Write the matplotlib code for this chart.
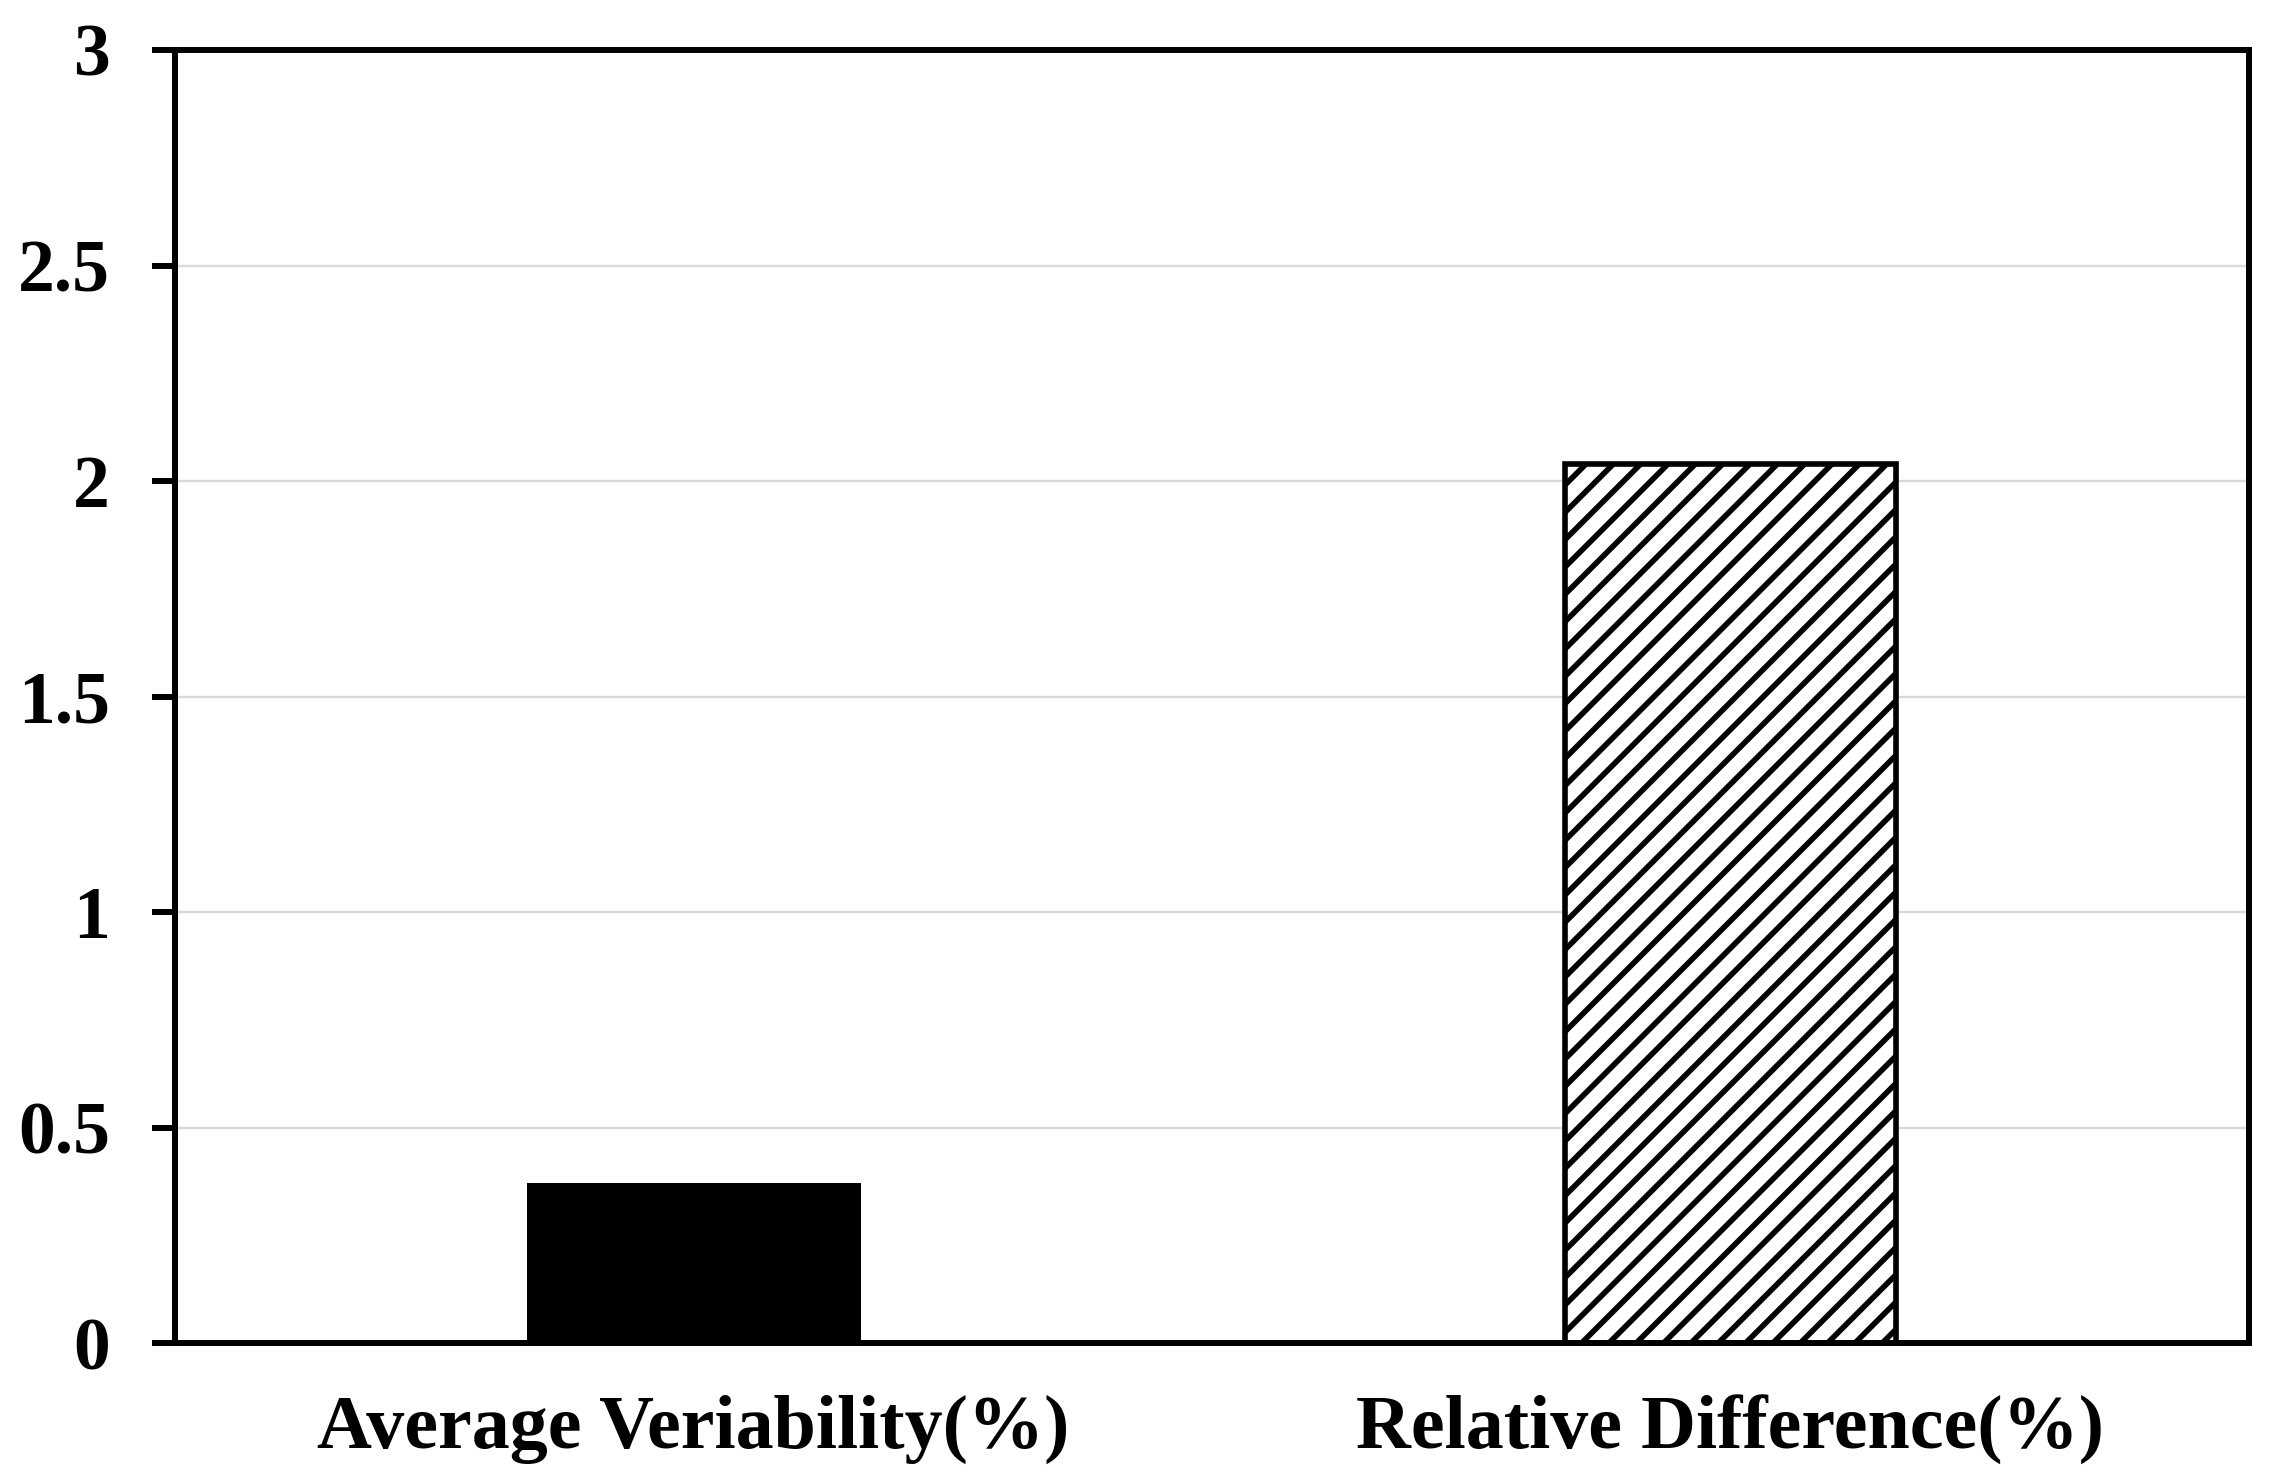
import matplotlib
matplotlib.use("Agg")
import matplotlib.pyplot as plt

categories = ["Average Veriability(%)", "Relative Difference(%)"]
values = [0.37, 2.04]
yticks = [0, 0.5, 1, 1.5, 2, 2.5, 3]
ytick_labels = ["0", "0.5", "1", "1.5", "2", "2.5", "3"]

DPI = 82
W, H = 2284, 1484


def pt(px):
    return px * 72.0 / DPI


plt.rcParams['font.family'] = ['Liberation Serif', 'DejaVu Serif']
plt.rcParams['font.weight'] = 'bold'
plt.rcParams['hatch.linewidth'] = pt(5.6)

fig = plt.figure(figsize=(W / DPI, H / DPI), dpi=DPI)
ax = fig.add_axes([175 / W, 1 - 1343 / H, (2249 - 175) / W, (1343 - 50) / H])

x = list(range(len(categories)))
ax.set_axisbelow(True)
ax.yaxis.grid(True, color='#d9d9d9', linewidth=pt(2.4))
ax.bar(x[0], values[0], width=0.32, color='black', edgecolor='black', linewidth=pt(3))
ax.bar(x[1], values[1], width=0.32, color='white', edgecolor='black', linewidth=pt(5.6), hatch='/')

ax.set_xlim(-0.5, 1.5)
ax.set_ylim(0, 3)
ax.set_yticks(yticks)
ax.set_yticklabels(ytick_labels, fontsize=pt(73.6), fontweight='bold')
ax.set_xticks(x)
ax.set_xticklabels(categories, fontsize=pt(76), fontweight='bold')

for s in ax.spines.values():
    s.set_linewidth(pt(6))
    s.set_color('black')

ax.tick_params(axis='y', length=pt(23), width=pt(6), pad=pt(42), direction='out')
ax.tick_params(axis='x', length=0, pad=pt(52))

fig.savefig("out.png", dpi=DPI)
